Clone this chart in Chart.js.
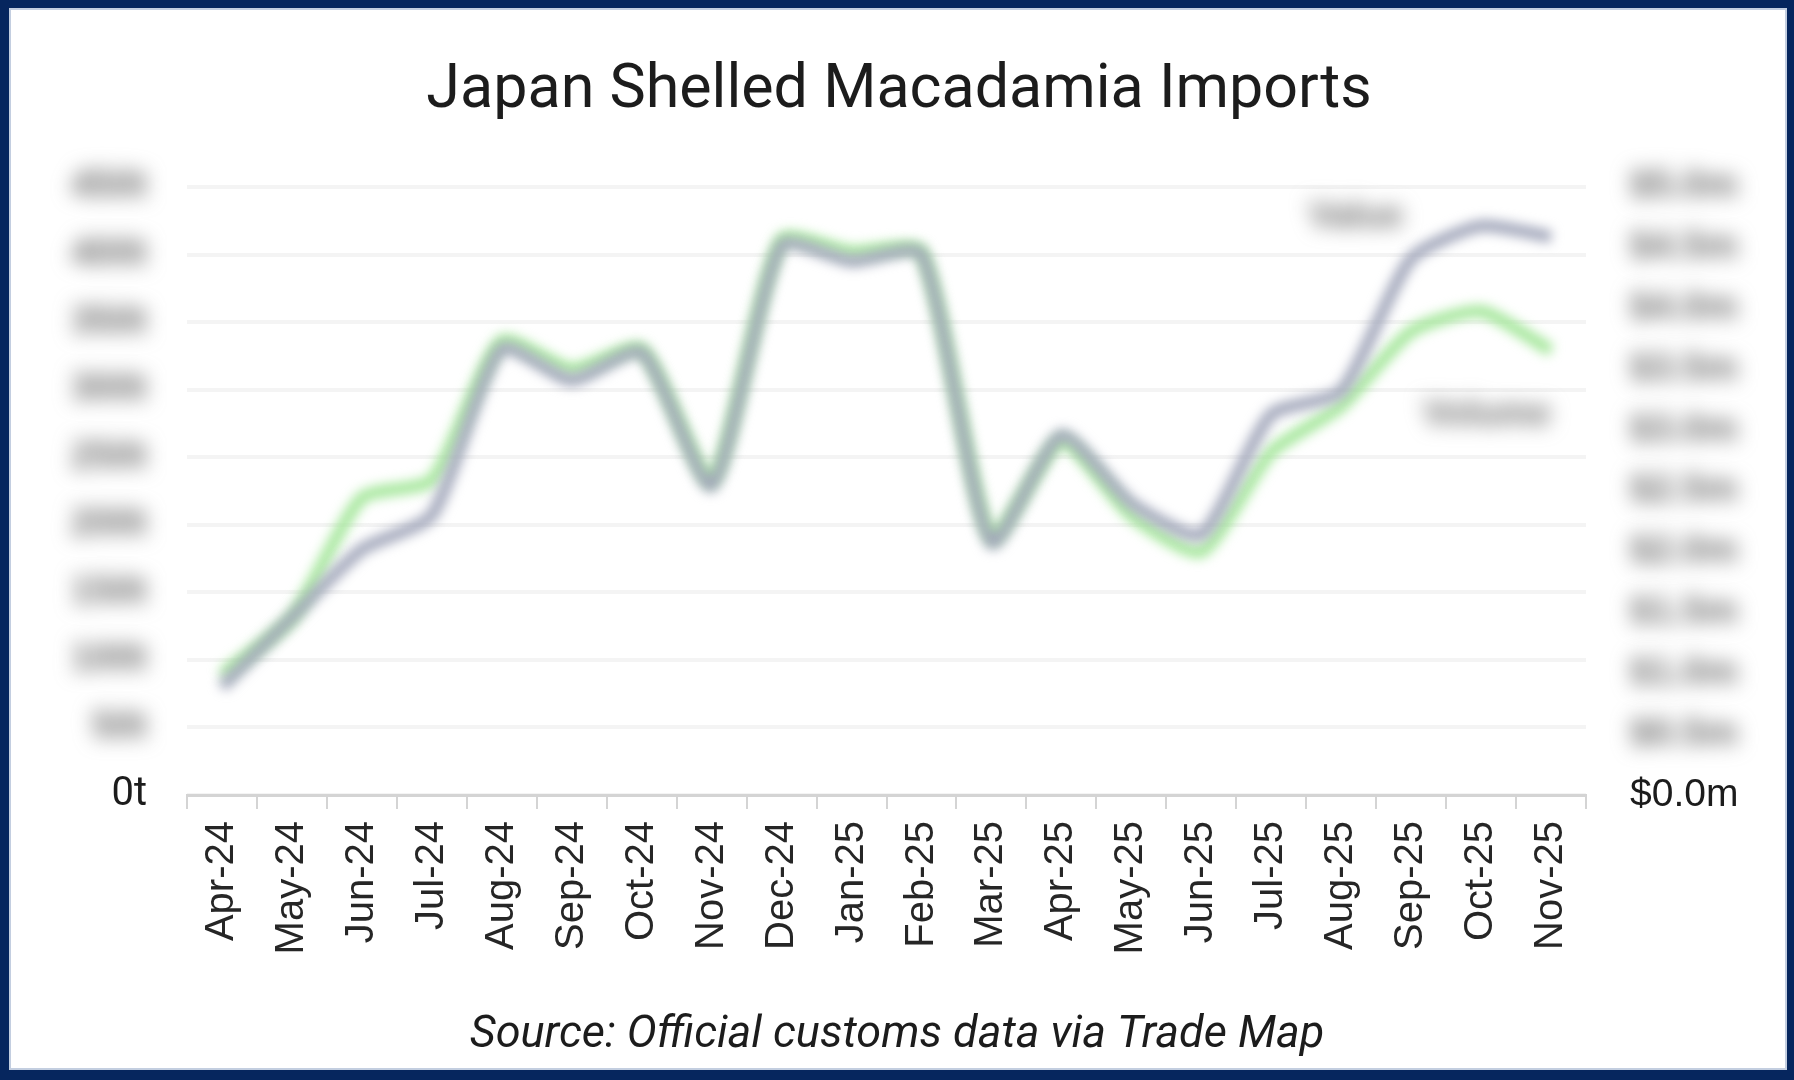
<!DOCTYPE html>
<html>
<head>
<meta charset="utf-8">
<title>Japan Shelled Macadamia Imports</title>
<script src="https://cdn.jsdelivr.net/npm/chart.js@4.4.1/dist/chart.umd.min.js"></script>
<style>
    html, body { margin: 0; padding: 0; background: #ffffff; }
    #wrap { position: relative; width: 1794px; height: 1080px; overflow: hidden; }
    #chart { position: absolute; left: 0; top: 0; }
    #frame {
        position: absolute; left: 0; top: 0;
        width: 1794px; height: 1080px;
        box-sizing: border-box;
        border-style: solid;
        border-color: #06265e;
        border-width: 8px 7px 10px 9px;
        box-shadow: inset 0 0 0 2px #c3cee0;
        pointer-events: none;
    }
</style>
</head>
<body>
<div id="wrap">
    <canvas id="chart" width="1794" height="1080"></canvas>
    <div id="frame"></div>
</div>
<script>
// Data
const months = ['Apr-24', 'May-24', 'Jun-24', 'Jul-24', 'Aug-24', 'Sep-24', 'Oct-24', 'Nov-24', 'Dec-24', 'Jan-25',
    'Feb-25', 'Mar-25', 'Apr-25', 'May-25', 'Jun-25', 'Jul-25', 'Aug-25', 'Sep-25', 'Oct-25', 'Nov-25'];

// import value, $m (right axis)
const valueM = [0.89, 1.46, 2.02, 2.30, 3.67, 3.41, 3.64, 2.54, 4.52, 4.39,
    4.45, 2.07, 2.96, 2.40, 2.14, 3.13, 3.32, 4.41, 4.68, 4.59];

// import volume, tonnes (left axis)
const volumeT = [89, 131, 220, 233, 336, 315, 330, 233, 411, 402,
    402, 191, 262, 207, 180, 254, 288, 343, 358, 329];

const volumeTicks = { min: 0, max: 450, step: 50 };
const valueTicks = { min: 0, max: 5, step: 0.5 };

const titleText = 'Japan Shelled Macadamia Imports';
const sourceText = 'Source: Official customs data via Trade Map';

// Helpers
const fmtTonnes = v => v + 't';
const fmtMoney = v => '$' + v.toFixed(1) + 'm';

// Title, source note and the blurred (redacted) labels
const decorPlugin = {
    id: 'decor',
    beforeDatasetsDraw(chart) {
        chart.ctx.save();
        chart.ctx.filter = 'blur(6px)';
    },
    afterDatasetsDraw(chart) {
        chart.ctx.restore();
    },
    afterDraw(chart) {
        const ctx = chart.ctx;
        const yL = chart.scales.y;
        const yR = chart.scales.y1;

        ctx.save();
        ctx.fillStyle = '#1c1c1c';
        ctx.textAlign = 'center';
        ctx.textBaseline = 'alphabetic';
        ctx.font = '61px Roboto';
        ctx.fillText(titleText, 899, 107);
        ctx.font = 'italic 45px Roboto';
        ctx.fillText(sourceText, 897, 1047);

        // redacted tick labels
        ctx.filter = 'blur(10px)';
        ctx.fillStyle = '#6e6e6e';
        ctx.font = 'bold 38px "Liberation Sans"';
        ctx.textBaseline = 'middle';
        ctx.textAlign = 'right';
        yL.ticks.forEach(t => {
            if (t.value === 0) return;
            ctx.fillText(fmtTonnes(t.value), yL.right - 40, yL.getPixelForValue(t.value));
        });
        ctx.textAlign = 'left';
        yR.ticks.forEach(t => {
            if (t.value === 0) return;
            ctx.fillText(fmtMoney(t.value), yR.left + 44, yR.getPixelForValue(t.value));
        });

        // redacted series labels
        ctx.textAlign = 'center';
        ctx.font = 'bold 36px "Liberation Sans"';
        ctx.fillText('Value', 1356, 217);
        ctx.fillText('Volume', 1487, 415);
        ctx.restore();
    }
};

const ctxChart = document.getElementById('chart').getContext('2d');

new Chart(ctxChart, {
    type: 'line',
    data: {
        labels: months,
        datasets: [{
            label: 'Value',
            data: valueM,
            yAxisID: 'y1',
            borderColor: '#a1a6ba',
            borderWidth: 12,
            tension: 0.2,
            pointRadius: 0,
            clip: false
        }, {
            label: 'Volume',
            data: volumeT,
            yAxisID: 'y',
            borderColor: '#a2e698',
            borderWidth: 12,
            tension: 0.2,
            pointRadius: 0,
            clip: false
        }]
    },
    options: {
        responsive: false,
        animation: false,
        devicePixelRatio: 1,
        layout: { padding: { top: 187, left: 0, right: 0, bottom: 0 } },
        plugins: {
            legend: { display: false },
            title: { display: false },
            tooltip: { enabled: false }
        },
        scales: {
            x: {
                offset: true,
                afterFit: scale => { scale.height = 285; },
                grid: {
                    offset: true,
                    drawOnChartArea: false,
                    drawTicks: true,
                    tickLength: 14,
                    color: '#d4d4d4',
                    lineWidth: 2
                },
                border: { display: true, color: '#d4d4d4', width: 3 },
                ticks: {
                    minRotation: 90,
                    maxRotation: 90,
                    autoSkip: false,
                    padding: 12,
                    color: '#262626',
                    font: { family: '"Liberation Sans"', size: 40 }
                }
            },
            y: {
                position: 'left',
                min: volumeTicks.min,
                max: volumeTicks.max,
                afterFit: scale => { scale.width = 187; },
                grid: { color: '#f4f4f4', lineWidth: 4, drawTicks: false },
                border: { display: false },
                ticks: {
                    stepSize: volumeTicks.step,
                    padding: 40,
                    color: '#1c1c1c',
                    font: { family: 'Roboto', size: 40 },
                    callback: v => (v === 0 ? fmtTonnes(0) : '')
                }
            },
            y1: {
                position: 'right',
                min: valueTicks.min,
                max: valueTicks.max,
                afterFit: scale => { scale.width = 208; },
                grid: { drawOnChartArea: false, drawTicks: false },
                border: { display: false },
                ticks: {
                    stepSize: valueTicks.step,
                    padding: 44,
                    color: '#1c1c1c',
                    font: { family: '"Liberation Sans"', size: 39 },
                    callback: v => (v === 0 ? fmtMoney(0) : '')
                }
            }
        }
    },
    plugins: [decorPlugin]
});
</script>
</body>
</html>
